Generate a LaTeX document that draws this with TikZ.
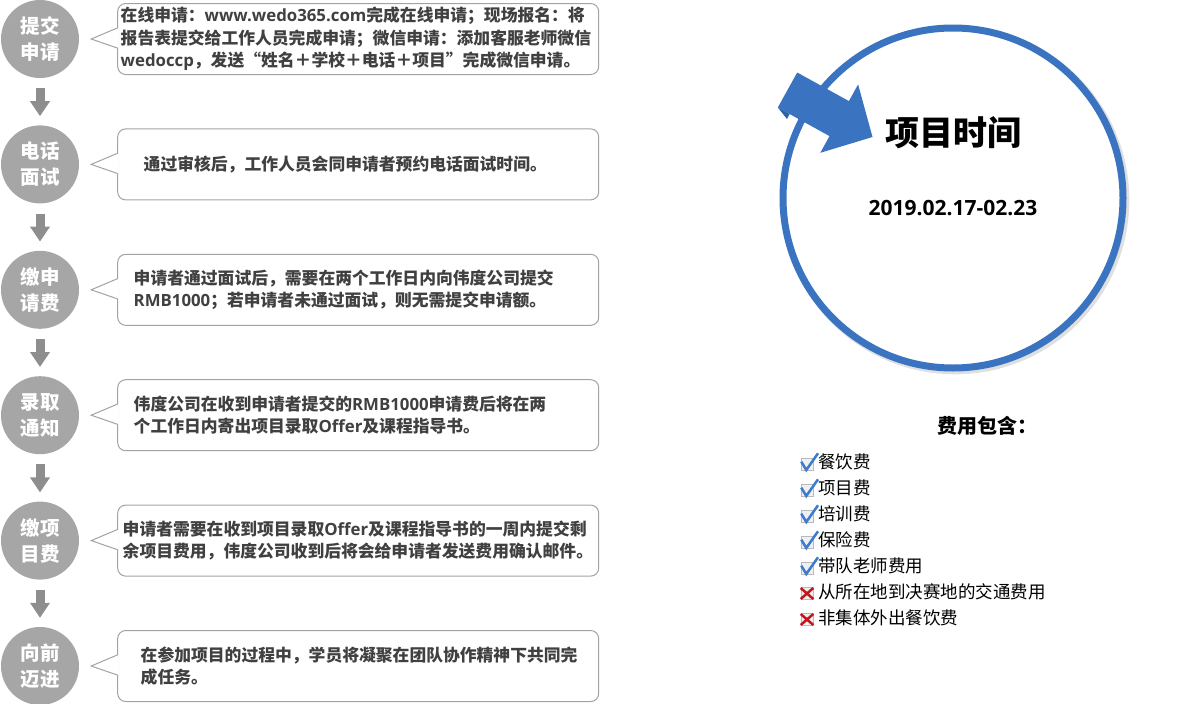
\documentclass[tikz,border=0pt]{standalone}
\usepackage{fontspec}
\setmainfont{Noto Sans CJK SC}
\newfontfamily\latinfont{Open Sans}
\usetikzlibrary{positioning,arrows.meta,shadows}

\definecolor{stepgray}{HTML}{A6A6A6}
\definecolor{arrowgray}{HTML}{8E8E8E}
\definecolor{boxgray}{HTML}{A3A3A3}
\definecolor{textgray}{HTML}{404040}
\definecolor{ringblue}{HTML}{3A73C0}
\definecolor{folddark}{HTML}{2E62A8}
\definecolor{tickblue}{HTML}{3B7BD0}
\definecolor{crossred}{HTML}{C0161C}

\tikzset{
  stepnode/.style={circle, fill=stepgray, minimum size=78pt, inner sep=0pt, align=center, text=white, font=\fontsize{19.5}{26}\selectfont\bfseries},
  flowarrow/.style={draw=arrowgray, line width=9pt, -{Triangle[width=19pt, length=15pt]}, shorten <=10pt, shorten >=9pt},
  callbox/.style={draw=boxgray, line width=1pt, rounded corners=8pt, fill=white, minimum height=71pt, inner ysep=0pt, align=left, text=textgray, font=\fontsize{16.8}{22.5}\selectfont\bfseries},
  pointer/.style={draw=boxgray, line width=1pt},
  ring/.style={circle, draw=ringblue, line width=7pt, fill=white, minimum size=340pt, inner sep=0pt, drop shadow={shadow xshift=2pt, shadow yshift=-2pt, shadow scale=1.025, opacity=0.25}},
  feeitem/.style={anchor=west, inner sep=0pt, font=\fontsize{17.5}{20}\selectfont},
  tickmark/.pic={
    \draw [draw=gray!55, fill=gray!12, line width=0.6pt] (-6, -6) rectangle (6, 6);
    \draw [tickblue, line width=2.5pt] (-5.7, -2.8) -- (-0.7, 5.5) -- (11, -11.2);
  },
  crossmark/.pic={
    \draw [draw=gray!55, fill=gray!12, line width=0.6pt] (-6, -6) rectangle (6, 6);
    \draw [crossred, line width=2.5pt] (-6.3, -5.5) -- (6.3, 5.5) (6.3, -5.5) -- (-6.3, 5.5);
  },
}

\begin{document}
\begin{tikzpicture}[x=1pt, y=-1pt]
    \useasboundingbox (0, 0) rectangle (1200, 704);
    % steps on the left
    \node [stepnode] (c1) at (40, 39) {提交\\申请};
    \node [stepnode, below=47pt of c1] (c2) {电话\\面试};
    \node [stepnode, below=47pt of c2] (c3) {缴申\\请费};
    \node [stepnode, below=47pt of c3] (c4) {录取\\通知};
    \node [stepnode, below=47pt of c4] (c5) {缴项\\目费};
    \node [stepnode, below=47pt of c5] (c6) {向前\\迈进};
    \draw [flowarrow] (c1) -- (c2);
    \draw [flowarrow] (c2) -- (c3);
    \draw [flowarrow] (c3) -- (c4);
    \draw [flowarrow] (c4) -- (c5);
    \draw [flowarrow] (c5) -- (c6);
    % callout boxes
    \node [callbox, right=38pt of c1, inner xsep=3pt, text width=475pt] (b1) {在线申请：{\latinfont www.wedo365.com}完成在线申请；现场报名：将\\报告表提交给工作人员完成申请；微信申请：添加客服老师微信\\{\latinfont wedoccp}，发送“姓名＋学校＋电话＋项目”完成微信申请。};
    \node [callbox, right=38pt of c2, inner xsep=26pt, text width=429pt] (b2) {通过审核后，工作人员会同申请者预约电话面试时间。};
    \node [callbox, right=38pt of c3, inner xsep=16pt, text width=449pt] (b3) {申请者通过面试后，需要在两个工作日内向伟度公司提交\\{\latinfont RMB1000}；若申请者未通过面试，则无需提交申请额。};
    \node [callbox, right=38pt of c4, inner xsep=16pt, text width=449pt] (b4) {伟度公司在收到申请者提交的{\latinfont RMB1000}申请费后将在两\\个工作日内寄出项目录取{\latinfont Offer}及课程指导书。};
    \node [callbox, right=38pt of c5, inner xsep=5pt, text width=471pt] (b5) {申请者需要在收到项目录取{\latinfont Offer}及课程指导书的一周内提交剩\\余项目费用，伟度公司收到后将会给申请者发送费用确认邮件。};
    \node [callbox, right=38pt of c6, inner xsep=23pt, text width=435pt] (b6) {在参加项目的过程中，学员将凝聚在团队协作精神下共同完\\成任务。};
    \coordinate (t1) at ([xshift=12pt]c1.east);
    \coordinate (t2) at ([xshift=12pt]c2.east);
    \coordinate (t3) at ([xshift=12pt]c3.east);
    \coordinate (t4) at ([xshift=12pt]c4.east);
    \coordinate (t5) at ([xshift=12pt]c5.east);
    \coordinate (t6) at ([xshift=12pt]c6.east);
    \fill [white] ([xshift=1.5pt, yshift=11pt]b1.west) -- (t1) -- ([xshift=1.5pt, yshift=-9pt]b1.west) -- cycle;
    \draw [pointer] ([yshift=11pt]b1.west) -- (t1) -- ([yshift=-9pt]b1.west);
    \fill [white] ([xshift=1.5pt, yshift=11pt]b2.west) -- (t2) -- ([xshift=1.5pt, yshift=-9pt]b2.west) -- cycle;
    \draw [pointer] ([yshift=11pt]b2.west) -- (t2) -- ([yshift=-9pt]b2.west);
    \fill [white] ([xshift=1.5pt, yshift=11pt]b3.west) -- (t3) -- ([xshift=1.5pt, yshift=-9pt]b3.west) -- cycle;
    \draw [pointer] ([yshift=11pt]b3.west) -- (t3) -- ([yshift=-9pt]b3.west);
    \fill [white] ([xshift=1.5pt, yshift=11pt]b4.west) -- (t4) -- ([xshift=1.5pt, yshift=-9pt]b4.west) -- cycle;
    \draw [pointer] ([yshift=11pt]b4.west) -- (t4) -- ([yshift=-9pt]b4.west);
    \fill [white] ([xshift=1.5pt, yshift=11pt]b5.west) -- (t5) -- ([xshift=1.5pt, yshift=-9pt]b5.west) -- cycle;
    \draw [pointer] ([yshift=11pt]b5.west) -- (t5) -- ([yshift=-9pt]b5.west);
    \fill [white] ([xshift=1.5pt, yshift=11pt]b6.west) -- (t6) -- ([xshift=1.5pt, yshift=-9pt]b6.west) -- cycle;
    \draw [pointer] ([yshift=11pt]b6.west) -- (t6) -- ([yshift=-9pt]b6.west);
    % time circle with its arrow
    \node [ring] (timecircle) at (953, 198) {};
    \fill [ringblue] (797.2, 72.5) -- (848.9, 101.1) -- (858.1, 84.4) -- (872.5, 137) -- (820.3, 152.8) -- (829.5, 136.1) -- (777.8, 107.5) -- cycle;
    \fill [folddark] (777.8, 107.5) -- (787, 119) -- (789.5, 114) -- cycle;
    \node [font=\fontsize{34}{40}\selectfont\bfseries] (title) at ([yshift=65pt]timecircle.center) {项目时间};
    \node [font=\latinfont\fontsize{21}{24}\selectfont\bfseries] (date) at ([yshift=-10pt]timecircle.center) {2019.02.17-02.23};
    % fees
    \node [anchor=west, inner sep=0pt, font=\fontsize{20}{24}\selectfont\bfseries] (feetitle) at (937, 426) {费用包含：};
    \node [feeitem] (f1) at (818, 462) {餐饮费};
    \node [feeitem] (f2) at (818, 488) {项目费};
    \node [feeitem] (f3) at (818, 514) {培训费};
    \node [feeitem] (f4) at (818, 540) {保险费};
    \node [feeitem] (f5) at (818, 566) {带队老师费用};
    \node [feeitem] (f6) at (818, 592) {从所在地到决赛地的交通费用};
    \node [feeitem] (f7) at (818, 618) {非集体外出餐饮费};
    \pic at ([xshift=-11pt, yshift=-2.5pt]f1.west) {tickmark};
    \pic at ([xshift=-11pt, yshift=-2.5pt]f2.west) {tickmark};
    \pic at ([xshift=-11pt, yshift=-2.5pt]f3.west) {tickmark};
    \pic at ([xshift=-11pt, yshift=-2.5pt]f4.west) {tickmark};
    \pic at ([xshift=-11pt, yshift=-2.5pt]f5.west) {tickmark};
    \pic at ([xshift=-11pt, yshift=-1.5pt]f6.west) {crossmark};
    \pic at ([xshift=-11pt, yshift=-1.5pt]f7.west) {crossmark};
\end{tikzpicture}
\end{document}
